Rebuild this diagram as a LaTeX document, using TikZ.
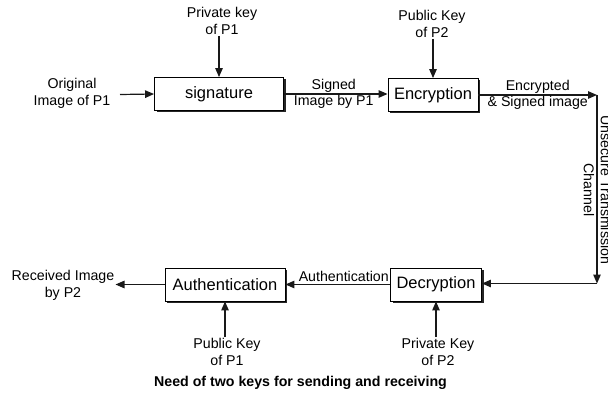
\documentclass[tikz,border=0pt]{standalone}
\usepackage{fontspec}
\setmainfont{Liberation Sans}
\usetikzlibrary{arrows.meta,shadows,calc}
\begin{document}
\begin{tikzpicture}[x=1pt,y=-1pt,
  lbl/.style={align=center,font=\fontsize{14.2}{17}\selectfont,inner sep=1pt},
  box/.style={draw=black,line width=0.9pt,fill=white,minimum height=33pt,inner sep=0pt,
    font=\fontsize{16.5}{19}\selectfont,
    drop shadow={shadow xshift=2pt,shadow yshift=-2pt,opacity=1,fill=black!85}},
  arr/.style={line width=1.2pt,draw=black!90,-{Triangle[length=9pt,width=7.5pt]}}]
\clip (0,0) rectangle (608,393);
\useasboundingbox (0,0) rectangle (608,393);
\fill[white] (0,0) rectangle (608,393);
% boxes
\node[box,minimum width=129pt] (sig) at (219,94) {signature};
\node[box,minimum width=90pt] (enc) at (433,95) {Encryption};
\node[box,minimum width=91pt] (dec) at (436,284.5) {Decryption};
\node[box,minimum width=120pt] (auth) at (225,284.5) {Authentication};
% labels
\node[lbl] (pk1) at (222,21) {Private key\\of P1};
\node[lbl] (orig) at (72,93) {Original\\Image of P1};
\node[lbl] (pk2) at (432,24) {Public Key\\of P2};
\node[lbl] (pub1) at (227,352) {Public Key\\of P1};
\node[lbl] (prv2) at (438,352) {Private Key\\of P2};
\node[lbl] (recv) at (63,285) {Received Image\\by P2};
\node[lbl,rotate=-90] (chan) at (597.5,190) {Unsecure Transmission\\Channel};
\node[font=\fontsize{14.2}{17}\selectfont\bfseries] (cap) at (300.5,383) {Need of two keys for sending and receiving};
% corners of the channel
\coordinate (c1) at (597,95);
\coordinate (c2) at (597,283.5);
% connectors
\draw[arr] (orig.east -| 120,0) ++(0,1.5) -- (sig.west);
\draw[arr] (pk1.south -| sig.north) -- (sig.north);
\draw[arr] (sig.east) -- (sig.east -| enc.west)
  node[lbl,midway,align=center,xshift=-2pt] {Signed\\[-0.5pt]Image by P1};
\draw[arr] (pk2.south -| enc.north) -- (enc.north);
\draw[arr] (enc.east) -- (c1)
  node[lbl,midway,align=center] {Encrypted\\[-0.5pt]\& Signed image};
\draw[arr] (c1) -- (c2);
\draw[arr] (c2) -- (dec.east |- c2);
\draw[arr] (dec.west) -- (auth.east)
  node[midway,above,inner sep=2pt,xshift=6pt,font=\fontsize{14.2}{17}\selectfont] {Authentication};
\draw[arr] (prv2.north -| dec.south) -- (dec.south);
\draw[arr] (pub1.north -| auth.south) -- (auth.south);
\draw[arr] (auth.west) -- (auth.west -| recv.east);
\end{tikzpicture}
\end{document}
